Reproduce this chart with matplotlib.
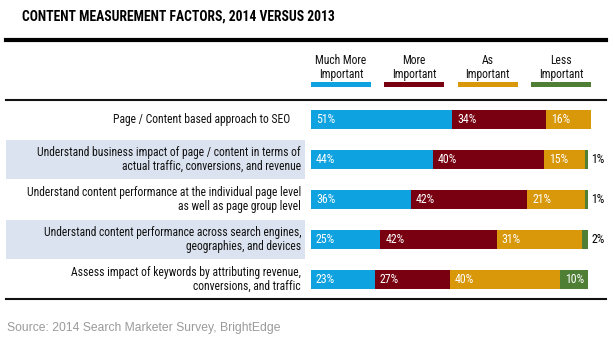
import matplotlib
matplotlib.use("Agg")
import matplotlib.pyplot as plt
from matplotlib import font_manager as fm
from matplotlib.patches import Rectangle
from matplotlib.lines import Line2D
import matplotlib.transforms as mtransforms

# ---------------- data ----------------
title = "CONTENT MEASUREMENT FACTORS, 2014 VERSUS 2013"
categories = [
    "Page / Content based approach to SEO",
    "Understand business impact of page / content in terms of\nactual traffic, conversions, and revenue",
    "Understand content performance at the individual page level\nas well as page group level",
    "Understand content performance across search engines,\ngeographies, and devices",
    "Assess impact of keywords by attributing revenue,\nconversions, and traffic",
]
series_names = ["Much More\nImportant", "More\nImportant", "As\nImportant", "Less\nImportant"]
much_more = [51, 44, 36, 25, 23]
more = [34, 40, 42, 42, 27]
as_imp = [16, 15, 21, 31, 40]
less = [0, 1, 1, 2, 10]
source = "Source: 2014 Search Marketer Survey, BrightEdge"

colors = ["#0ea2e0", "#780010", "#d9970a", "#4f7f35"]
shade = "#dce3f0"

names = {f.name for f in fm.fontManager.ttflist}
cond_name = "DejaVu Sans"
for cand in ["Roboto Condensed", "Archivo Narrow", "Asap Condensed", "Barlow Condensed"]:
    if cand in names:
        cond_name = cand
        break
cond = dict(family=cond_name)

W, H = 615, 345
fig = plt.figure(figsize=(W / 100, H / 100), dpi=100)

def fx(px):
    return px / W

def fy(py):
    return 1 - py / H

ax = fig.add_axes([fx(311), fy(299.5), 277 / W, 200 / H])
ax.set_xlim(0, 100)
ax.set_ylim(4.5, -0.5)
ax.axis("off")

series = [much_more, more, as_imp, less]
ypos = list(range(len(categories)))
bar_h = 0.49

bt = mtransforms.blended_transform_factory(fig.transFigure, ax.transData)
for i in ypos:
    if i % 2 == 1:
        ax.add_patch(Rectangle((fx(6), i - 0.49), fx(305) - fx(6), 0.98,
                               transform=bt, facecolor=shade, edgecolor="none",
                               clip_on=False, zorder=0))

lefts = [0] * len(categories)
for s, vals in enumerate(series):
    for i, v in enumerate(vals):
        if v <= 0:
            continue
        ax.barh(i, v, left=lefts[i], height=bar_h, color=colors[s],
                edgecolor="none", clip_on=False, zorder=2)
        if v >= 5:
            ax.annotate(f"{v}%", (lefts[i], i), xytext=(5, 0),
                        textcoords="offset pixels", ha="left", va="center",
                        color="white", fontsize=8.6, zorder=3, **cond)
        else:
            ax.annotate(f"{v}%", (lefts[i] + v, i), xytext=(3, 0),
                        textcoords="offset pixels", ha="left", va="center",
                        color="black", fontsize=8.6, zorder=3, **cond)
        lefts[i] += v

label_x = [290, 301, 301, 301, 301]
for i, lab in enumerate(categories):
    fig.text(fx(label_x[i]), i, lab, transform=bt, ha="right", va="center",
             fontsize=8.4, linespacing=1.1, color="#111111", **cond)

leg_x0 = 311
for s, name in enumerate(series_names):
    x0 = leg_x0 + s * 73.3
    fig.add_artist(Rectangle((fx(x0), fy(87)), 60 / W, 5 / H,
                             transform=fig.transFigure, facecolor=colors[s],
                             edgecolor="none"))
    fig.text(fx(x0 + 30), fy(67.5), name, ha="center", va="center",
             fontsize=8.4, linespacing=1.1, color="#111111", **cond)

fig.add_artist(Line2D([fx(6), fx(606)], [fy(40), fy(40)], color="black", lw=3.0,
                      transform=fig.transFigure))
fig.add_artist(Line2D([fx(6), fx(606)], [fy(99.5), fy(99.5)], color="#111111", lw=1.5,
                      transform=fig.transFigure))
fig.add_artist(Line2D([fx(6), fx(606)], [fy(298.5), fy(298.5)], color="#111111", lw=1.5,
                      transform=fig.transFigure))

fig.text(fx(22), fy(16.5), title, ha="left", va="center", fontsize=9.8,
         fontweight="bold", color="black", **cond)
fig.text(fx(7), fy(328), source, ha="left", va="center", fontsize=8.7,
         family="Liberation Sans", color="#9a9a9a")

fig.savefig("out.png", dpi=100, facecolor="white")
